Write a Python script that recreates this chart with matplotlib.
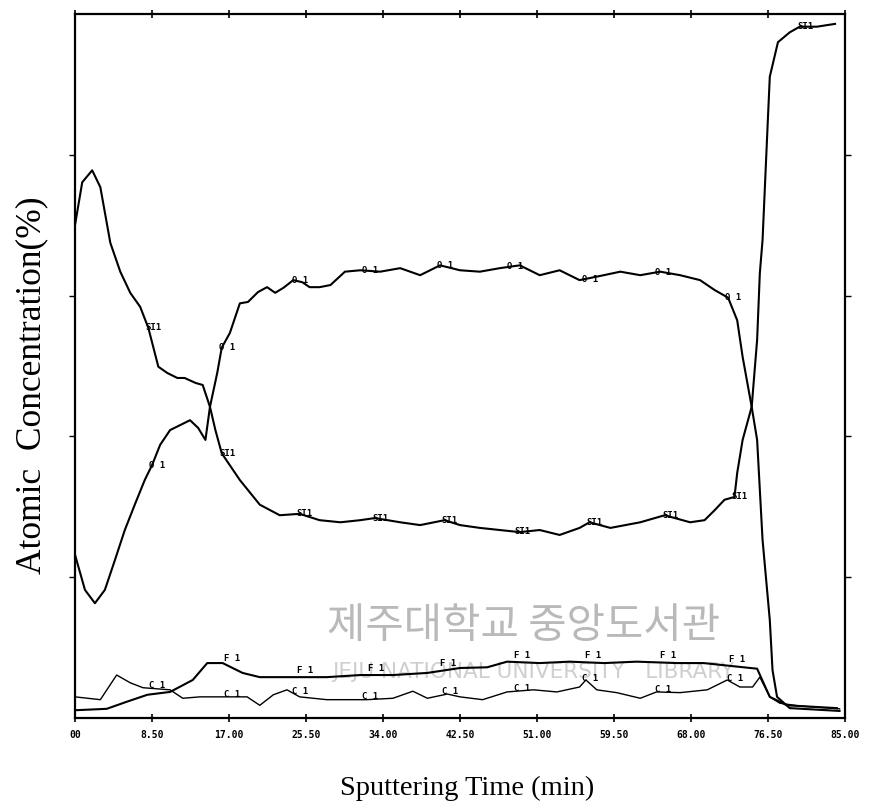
import numpy as np
import matplotlib
matplotlib.use("Agg")
import matplotlib.pyplot as plt

# AES depth profile: sputtering time (min) vs atomic concentration (%)
si_t = [0.0, 0.8, 1.9, 2.8, 3.9, 5.0, 6.1, 7.2, 8.1, 9.2, 10.2, 11.3, 12.1, 13.3,
        14.1, 14.9, 15.5, 16.2, 18.2, 20.4, 22.6, 24.8, 27.0, 29.3, 31.5, 33.1,
        35.9, 38.1, 40.8, 42.5, 44.7, 46.9, 49.1, 51.3, 53.5, 55.7, 56.8, 59.1,
        62.4, 65.1, 67.9, 69.5, 70.6, 71.7, 72.8, 73.1, 73.7, 74.7, 75.3, 75.6,
        75.9, 76.5, 76.7, 77.6, 78.9, 80.0, 81.9, 83.9]
si_c = [70.0, 76.1, 77.8, 75.4, 67.5, 63.4, 60.4, 58.4, 55.4, 49.9, 49.0, 48.3, 48.3, 47.6,
        47.3, 44.2, 40.9, 37.6, 33.8, 30.3, 28.8, 29.0, 28.1, 27.8, 28.1, 28.4,
        27.8, 27.4, 28.1, 27.4, 27.0, 26.7, 26.4, 26.7, 26.0, 27.0, 27.8, 27.0,
        27.8, 28.8, 27.8, 28.1, 29.5, 31.0, 31.4, 34.8, 39.5, 44.2, 53.7, 63.2,
        67.9, 85.4, 91.1, 96.0, 97.4, 98.2, 98.2, 98.6]

o_t = [0.0, 1.1, 2.2, 3.3, 4.4, 5.5, 6.6, 7.7, 8.5, 9.4, 10.5, 11.6, 12.7, 13.6,
       14.4, 14.9, 15.7, 16.2, 17.1, 18.2, 19.1, 20.2, 21.2, 22.1, 23.0, 24.1,
       25.1, 25.9, 27.0, 28.2, 29.8, 31.5, 33.7, 35.9, 38.1, 40.3, 42.5, 44.7,
       46.9, 49.1, 51.3, 53.5, 55.7, 58.0, 60.2, 62.4, 64.6, 66.8, 69.0, 70.6,
       72.1, 73.1, 73.7, 74.7, 75.3, 75.9, 76.7, 77.0, 77.5, 78.9, 84.4]
o_c = [23.2, 18.2, 16.3, 18.2, 22.4, 26.7, 30.3, 33.8, 35.9, 38.8, 40.9, 41.6, 42.3, 41.2,
       39.5, 44.2, 49.0, 52.6, 54.7, 58.9, 59.1, 60.5, 61.2, 60.4, 61.1, 62.2,
       61.9, 61.2, 61.2, 61.5, 63.4, 63.6, 63.4, 63.9, 62.9, 64.3, 63.6, 63.4,
       63.9, 64.3, 62.9, 63.6, 62.2, 62.8, 63.4, 62.9, 63.4, 62.9, 62.2, 60.8,
       59.7, 56.5, 51.3, 44.2, 39.5, 25.3, 13.9, 6.8, 3.0, 1.4, 1.0]

f_t = [0.0, 3.5, 5.7, 8.0, 10.5, 13.0, 14.6, 16.3, 18.5, 20.4, 24.1, 27.8, 31.5,
       35.1, 38.9, 42.5, 45.5, 47.7, 51.3, 54.6, 58.4, 62.0, 66.5, 69.4, 73.8,
       75.3, 76.7, 78.6, 84.1]
f_c = [1.1, 1.3, 2.3, 3.3, 3.7, 5.4, 7.8, 7.8, 6.4, 5.8, 5.8, 5.8, 6.1,
       6.1, 6.4, 7.1, 7.2, 8.0, 7.8, 8.0, 7.8, 8.0, 7.8, 7.8, 7.2,
       7.0, 3.0, 1.8, 1.4]

c_t = [0.0, 2.8, 4.6, 6.1, 7.5, 10.5, 11.9, 13.8, 16.0, 19.0, 20.4, 21.9, 23.4,
       24.8, 27.8, 32.2, 35.1, 37.3, 38.9, 41.1, 42.5, 45.0, 47.7, 50.6, 53.2,
       55.7, 56.4, 57.6, 59.8, 62.4, 64.2, 66.8, 69.8, 72.0, 73.4, 74.8, 75.6,
       76.7, 77.8, 80.0, 84.4]
c_c = [3.0, 2.6, 6.1, 5.0, 4.3, 4.0, 2.8, 3.0, 3.0, 3.0, 1.8, 3.3, 4.0,
       3.0, 2.6, 2.6, 2.8, 3.8, 2.8, 3.4, 3.0, 2.6, 3.7, 4.0, 3.7,
       4.4, 5.4, 4.0, 3.6, 2.8, 3.7, 3.6, 4.0, 5.4, 4.4, 4.4, 5.8,
       3.0, 2.1, 1.7, 1.3]

# where the plotter stamped the element tags along each trace
si_tags = [8.1, 16.2, 24.8, 33.1, 40.8, 48.8, 56.8, 65.1, 72.8, 80.0]
o_tags = [8.5, 16.2, 24.3, 32.0, 40.3, 48.0, 56.3, 64.3, 72.1]
f_tags = [16.8, 24.8, 32.6, 40.6, 48.8, 56.6, 64.9, 72.5]
c_tags = [8.5, 16.8, 24.3, 32.0, 40.8, 48.8, 56.3, 64.3, 72.3]

xtick_vals = [0, 8.5, 17, 25.5, 34, 42.5, 51, 59.5, 68, 76.5, 85]
xtick_text = ["00", "8.50", "17.00", "25.50", "34.00", "42.50", "51.00",
              "59.50", "68.00", "76.50", "85.00"]

fig = plt.figure(figsize=(8.77, 8.11), dpi=100)
ax = fig.add_axes([0.0855, 0.1147, 0.878, 0.868])

# faint library watermark behind the traces
ax.text(0.582, 0.13, "제주대학교 중앙도서관", transform=ax.transAxes,
        family=["Noto Sans CJK KR", "DejaVu Sans"], fontsize=30,
        color="#b9b9b9", ha="center", va="center", zorder=0)
ax.text(0.595, 0.066, "JEJU NATIONAL UNIVERSITY   LIBRARY", transform=ax.transAxes,
        family="DejaVu Sans", fontsize=15.5, color="#cfcfcf",
        ha="center", va="center", zorder=0)

ax.plot(si_t, si_c, color="black", lw=1.5, zorder=3)
ax.plot(o_t, o_c, color="black", lw=1.5, zorder=3)
ax.plot(f_t, f_c, color="black", lw=1.5, zorder=3)
ax.plot(c_t, c_c, color="black", lw=1.0, zorder=3)

tag_font = dict(family="DejaVu Sans Mono", fontweight="bold", fontsize=6.5,
                color="black", zorder=4)


def stamp(times, tx, ty, label, dy=0):
    for t in times:
        y = np.interp(t, tx, ty)
        ax.annotate(label, (t, y), xytext=(-2, dy), textcoords="offset points",
                    ha="left", va="center", **tag_font)


stamp(si_tags, si_t, si_c, "SI1")
stamp(o_tags, o_t, o_c, "O 1")
stamp(f_tags, f_t, f_c, "F 1", dy=5)
stamp(c_tags, c_t, c_c, "C 1", dy=2)

ax.set_xlim(0, 85)
ax.set_ylim(0, 100)
ax.set_xticks(xtick_vals)
ax.set_xticklabels(xtick_text, family="DejaVu Sans Mono", fontweight="bold",
                   fontsize=7)
ax.set_yticks([20, 40, 60, 80])
ax.set_yticklabels([])
ax.tick_params(axis="x", direction="inout", length=6, width=1.2, pad=6,
               top=True)
ax.tick_params(axis="y", direction="out", length=4, width=1, right=True)

for side in ax.spines.values():
    side.set_linewidth(1.6)

ax.set_xlabel("Sputtering Time (min)", family="Liberation Serif",
              fontsize=20.5)
ax.xaxis.set_label_coords(0.509, -0.082)
ax.set_ylabel("Atomic  Concentration(%)", family="Liberation Serif",
              fontsize=25.5)
ax.yaxis.set_label_coords(-0.035, 0.473)

fig.savefig("out.png", dpi=100)
